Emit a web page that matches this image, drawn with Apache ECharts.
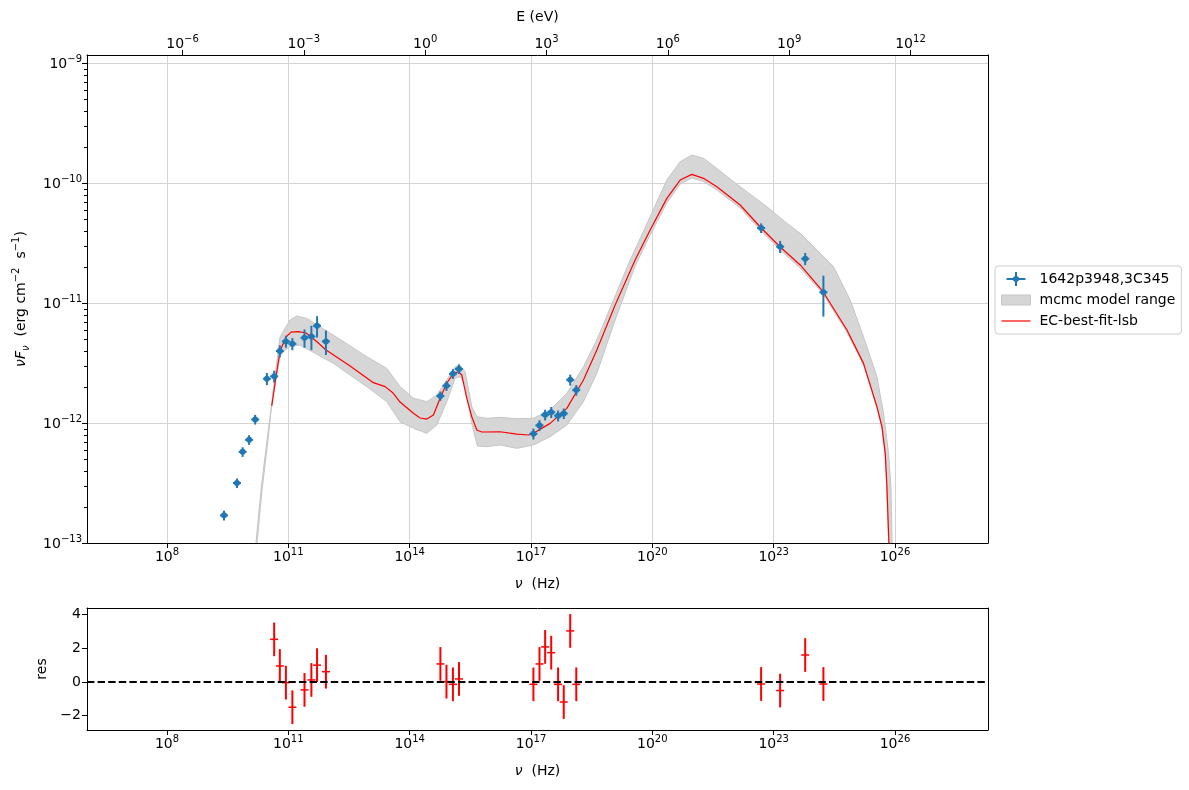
<!DOCTYPE html>
<html>
<head>
<meta charset="utf-8">
<script src="https://cdn.jsdelivr.net/npm/echarts@6/dist/echarts.min.js"></script>
<style>
  html, body { margin: 0; padding: 0; background: #fff; }
  #sed { width: 1189px; height: 790px; }
</style>
</head>
<body>
<div id="sed"></div>
<script>
// observed points: log10(nu / Hz), nuFnu and 1-sigma error (erg cm^-2 s^-1)
const logNu = [9.41, 9.73, 9.87, 10.03, 10.18, 10.47, 10.65, 10.79, 10.94, 11.10, 11.40, 11.57, 11.71, 11.93,
  14.76, 14.91, 15.07, 15.22, 17.06, 17.21, 17.35, 17.50, 17.67, 17.81, 17.97, 18.12, 22.69, 23.16, 23.78, 24.23];
const nuFnu = [1.70e-13, 3.16e-13, 5.75e-13, 7.24e-13, 1.07e-12, 2.34e-12, 2.45e-12, 3.98e-12, 4.79e-12, 4.57e-12,
  5.13e-12, 5.25e-12, 6.46e-12, 4.79e-12, 1.68e-12, 2.04e-12, 2.57e-12, 2.82e-12, 8.13e-13, 9.55e-13,
  1.17e-12, 1.23e-12, 1.15e-12, 1.20e-12, 2.29e-12, 1.88e-12, 4.22e-11, 2.95e-11, 2.34e-11, 1.23e-11];
const nuFnuErr = [1.6e-14, 2.9e-14, 5.3e-14, 6.7e-14, 9.9e-14, 2.7e-13, 2.8e-13, 4.6e-13, 5.5e-13, 5.3e-13,
  8.9e-13, 1.2e-12, 1.3e-12, 1.1e-12, 1.5e-13, 1.9e-13, 2.4e-13, 2.6e-13, 8.4e-14, 9.9e-14,
  1.2e-13, 1.3e-13, 1.2e-13, 1.2e-13, 2.4e-13, 1.9e-13, 3.9e-12, 3.4e-12, 2.7e-12, 4.6e-12];

// residuals (points inside the model range)
const resLogNu = [10.65, 10.79, 10.94, 11.10, 11.40, 11.57, 11.71, 11.93, 14.76, 14.91, 15.07, 15.22,
  17.06, 17.21, 17.35, 17.50, 17.67, 17.81, 17.97, 18.12, 22.69, 23.16, 23.78, 24.23];
const residual = [2.53, 0.95, -0.04, -1.50, -0.47, 0.12, 1.0, 0.61, 1.07, 0.02, -0.14, 0.18,
  -0.14, 1.07, 2.08, 1.74, -0.14, -1.19, 3.03, -0.14, -0.12, -0.51, 1.60, -0.12];
const residualErr = [1, 1, 1, 1, 1, 1, 1, 1, 1, 1, 1, 1, 1, 1, 1, 1, 1, 1, 1, 1, 1, 1, 1, 1];

// best fit model (log10 nu, log10 nuFnu)
const modelLogNu = [10.590, 10.69, 10.795, 10.943, 11.067, 11.248, 11.438, 11.685, 11.933, 12.527, 13.103, 13.392,
  13.590, 13.763, 14.092, 14.258, 14.423, 14.587, 14.752, 14.918, 15.081, 15.205, 15.289, 15.413, 15.536, 15.660,
  15.784, 16.236, 16.649, 16.936, 17.060, 17.473, 17.886, 18.297, 18.628, 19.081, 19.575, 19.946, 20.359, 20.688,
  20.978, 21.265, 21.596, 22.172, 22.692, 23.162, 23.657, 24.226, 24.812, 25.222, 25.554, 25.678, 25.759, 25.801,
  25.841, 25.851];
const modelLogFlux = [-11.858, -11.625, -11.400, -11.283, -11.242, -11.239, -11.25, -11.317, -11.392, -11.525, -11.664,
  -11.697, -11.75, -11.825, -11.919, -11.958, -11.967, -11.933, -11.794, -11.669, -11.586, -11.573, -11.6, -11.794,
  -11.948, -12.058, -12.075, -12.073, -12.092, -12.1, -12.086, -12.003, -11.878, -11.642, -11.392, -11.017, -10.642,
  -10.392, -10.128, -9.975, -9.928, -9.961, -10.031, -10.183, -10.375, -10.533, -10.683, -10.908, -11.225, -11.503,
  -11.864, -12.031, -12.253, -12.531, -12.919, -13.0];

// mcmc model range, upper and lower edge
const bandHiLogNu = [10.226, 10.350, 10.498, 10.597, 10.795, 10.919, 11.042, 11.208, 11.455, 12.113, 12.939, 13.434,
  13.763, 14.092, 14.423, 14.671, 14.918, 15.123, 15.230, 15.371, 15.536, 15.660, 15.907, 16.236, 16.649, 17.060,
  17.473, 17.886, 18.297, 18.628, 19.452, 19.946, 20.359, 20.688, 20.978, 21.265, 21.596, 22.172, 22.833, 23.328,
  23.657, 24.480, 24.893, 25.222, 25.554, 25.717, 25.841, 25.900, 25.930];
const bandHiLogFlux = [-13.0, -12.558, -12.142, -11.808, -11.283, -11.211, -11.142, -11.108, -11.128, -11.267, -11.447,
  -11.544, -11.697, -11.794, -11.822, -11.767, -11.642, -11.531, -11.517, -11.572, -11.864, -11.947, -11.961, -11.953,
  -11.964, -11.961, -11.892, -11.753, -11.531, -11.308, -10.642, -10.281, -9.975, -9.822, -9.767, -9.794, -9.878,
  -10.031, -10.197, -10.336, -10.419, -10.697, -10.975, -11.281, -11.614, -11.919, -12.253, -12.531, -13.0];
const bandLoLogNu = [10.200, 10.325, 10.473, 10.572, 10.795, 10.919, 11.042, 11.29, 12.113, 12.939, 13.434, 13.763,
  14.092, 14.423, 14.671, 14.918, 15.123, 15.247, 15.371, 15.536, 15.674, 15.907, 16.236, 16.649, 17.060, 17.473,
  17.886, 18.297, 18.628, 19.081, 19.575, 19.946, 20.359, 20.688, 20.978, 21.265, 21.596, 22.172, 22.692, 23.162,
  23.657, 24.226, 24.812, 25.222, 25.554, 25.678, 25.759, 25.796, 25.833, 25.846];
const bandLoLogFlux = [-13.0, -12.558, -12.142, -11.892, -11.442, -11.392, -11.364, -11.35, -11.503, -11.697, -11.822,
  -11.989, -12.044, -12.086, -12.017, -11.822, -11.628, -11.614, -11.683, -12.003, -12.192, -12.197, -12.183, -12.211,
  -12.183, -12.114, -12.017, -11.822, -11.586, -11.142, -10.692, -10.433, -10.167, -10.008, -9.958, -9.988, -10.058,
  -10.208, -10.4, -10.558, -10.708, -10.925, -11.242, -11.517, -11.875, -12.042, -12.267, -12.542, -12.925, -13.0];

// ticks (log10)
const nuTicks = [8, 11, 14, 17, 20, 23, 26];
const eTicks = [-6, -3, 0, 3, 6, 9, 12];
const fluxTicks = [-13, -12, -11, -10, -9];
const resTicks = [-2, 0, 2, 4];

const NU_MIN = 6.022, NU_MAX = 28.30;
const FLUX_MIN = -13, FLUX_MAX = -8.933;
const RES_MIN = -2.85, RES_MAX = 4.39;
const LOG_H_EV = -14.3834; // log10(h / eV s)

const FONT = 'DejaVu Sans';
const BLUE = '#1f77b4';
const GRID = '#d4d4d4';

// minor ticks of the flux axis (2..9 x 10^n)
const fluxMinor = [];
for (let n = -13; n < -9; n++) {
  for (let k = 2; k <= 9; k++) fluxMinor.push(n + Math.log10(k));
}

function pow10(v) {
  const n = Math.round(v);
  return '{b|10}{s|' + (n < 0 ? '\u2212' + (-n) : n) + '}';
}
const supRich = {
  b: { fontFamily: FONT, fontSize: 14, color: '#000', verticalAlign: 'bottom' },
  s: { fontFamily: FONT, fontSize: 10, color: '#000', verticalAlign: 'top', padding: [0, 0, 7, 0] }
};
const nameRich = {
  t: { fontFamily: FONT, fontSize: 14, color: '#000', verticalAlign: 'middle' },
  i: { fontFamily: FONT, fontSize: 14, color: '#000', fontStyle: 'italic', verticalAlign: 'middle' },
  sub: { fontFamily: FONT, fontSize: 10, color: '#000', fontStyle: 'italic', verticalAlign: 'bottom', padding: [10, 0, 0, 0] },
  sup: { fontFamily: FONT, fontSize: 10, color: '#000', verticalAlign: 'top', padding: [0, 0, 10, 0] }
};

function spine(extra) {
  return Object.assign({
    type: 'value',
    axisLine: { show: true, onZero: false, lineStyle: { color: '#000', width: 1 } },
    axisTick: { show: false },
    axisLabel: { show: false },
    splitLine: { show: false }
  }, extra);
}

const obsData = logNu.map((x, i) => [x, Math.log10(nuFnu[i]),
  Math.log10(nuFnu[i] - nuFnuErr[i]), Math.log10(nuFnu[i] + nuFnuErr[i])]);
const resData = resLogNu.map((x, i) => [x, residual[i], residual[i] - residualErr[i], residual[i] + residualErr[i]]);

function errorBars(color, withDot) {
  return function (params, api) {
    const c = api.coord([api.value(0), api.value(1)]);
    const lo = api.coord([api.value(0), api.value(2)]);
    const hi = api.coord([api.value(0), api.value(3)]);
    const kids = [
      { type: 'line', shape: { x1: lo[0], y1: lo[1], x2: hi[0], y2: hi[1] }, style: { stroke: color, lineWidth: 2 } },
      { type: 'line', shape: { x1: c[0] - 4, y1: c[1], x2: c[0] + 4, y2: c[1] }, style: { stroke: color, lineWidth: withDot ? 2 : 1.5 } }
    ];
    if (withDot) kids.push({ type: 'circle', shape: { cx: c[0], cy: c[1], r: 3 }, style: { fill: color } });
    return { type: 'group', children: kids };
  };
}

var myChart = echarts.init(document.getElementById('sed'));
var option = {
  animation: false,
  backgroundColor: '#fff',
  textStyle: { fontFamily: FONT },
  grid: [
    { left: 87, top: 55, width: 901, height: 488 },
    { left: 87, top: 608, width: 901, height: 122 }
  ],
  legend: {
    orient: 'vertical',
    left: 995,
    top: 266,
    padding: [6, 6, 6, 6],
    itemGap: 6.5,
    itemWidth: 29,
    itemHeight: 14,
    selectedMode: false,
    backgroundColor: '#fff',
    borderColor: '#cccccc',
    borderWidth: 1,
    borderRadius: 3,
    textStyle: { fontFamily: FONT, fontSize: 14, color: '#000', padding: [0, 0, 0, 4] },
    data: [
      {
        name: '1642p3948,3C345',
        icon: 'path://M0,0L0,0M29,14L29,14M13.5,0H15.5V14H13.5ZM5,6H24V8H5ZM11.5,7A3,3 0 1,1 17.5,7A3,3 0 1,1 11.5,7Z',
        itemStyle: { color: BLUE, borderWidth: 0 }
      },
      {
        name: 'mcmc model range',
        icon: 'path://M0,0L0,0M29,14L29,14M0,2H29V12H0Z',
        itemStyle: { color: '#d6d6d6', borderColor: '#c6c6c6', borderWidth: 1 }
      },
      {
        name: 'EC-best-fit-lsb',
        icon: 'path://M0,0L0,0M29,14L29,14M0,6.4H29V7.6H0Z',
        itemStyle: { color: '#ff0000', borderWidth: 0 }
      }
    ]
  },
  xAxis: [
    {
      type: 'value', gridIndex: 0, position: 'bottom', min: NU_MIN, max: NU_MAX,
      name: '{i|ν}{t|  (Hz)}', nameLocation: 'middle', nameGap: 34, nameTextStyle: { rich: nameRich },
      axisLine: { onZero: false, lineStyle: { color: '#000', width: 1 } },
      axisTick: { customValues: nuTicks, length: 5, lineStyle: { color: '#000' } },
      axisLabel: { customValues: nuTicks, formatter: pow10, rich: supRich, margin: 4 },
      splitLine: { show: true, lineStyle: { color: GRID, width: 1 } }
    },
    {
      type: 'value', gridIndex: 0, position: 'top', min: NU_MIN + LOG_H_EV, max: NU_MAX + LOG_H_EV,
      name: 'E (eV)', nameLocation: 'middle', nameGap: 31,
      nameTextStyle: { fontFamily: FONT, fontSize: 14, color: '#000' },
      axisLine: { onZero: false, lineStyle: { color: '#000', width: 1 } },
      axisTick: { customValues: eTicks, length: 5, lineStyle: { color: '#000' } },
      axisLabel: { customValues: eTicks, formatter: pow10, rich: supRich, margin: 4 },
      splitLine: { show: false }
    },
    {
      type: 'value', gridIndex: 1, position: 'bottom', min: NU_MIN, max: NU_MAX,
      name: '{i|ν}{t|  (Hz)}', nameLocation: 'middle', nameGap: 34, nameTextStyle: { rich: nameRich },
      axisLine: { onZero: false, lineStyle: { color: '#000', width: 1 } },
      axisTick: { customValues: nuTicks, length: 5, lineStyle: { color: '#000' } },
      axisLabel: { customValues: nuTicks, formatter: pow10, rich: supRich, margin: 4 },
      splitLine: { show: false }
    },
    spine({ gridIndex: 1, position: 'top', min: NU_MIN, max: NU_MAX })
  ],
  yAxis: [
    {
      type: 'value', gridIndex: 0, position: 'left', min: FLUX_MIN, max: FLUX_MAX,
      name: '{i|νF}{sub|ν}{t|  (erg cm}{sup|\u22122}{t|  s}{sup|\u22121}{t|)}',
      nameLocation: 'middle', nameGap: 56, nameTextStyle: { rich: nameRich },
      axisLine: { onZero: false, lineStyle: { color: '#000', width: 1 } },
      axisTick: { customValues: fluxTicks, length: 5, lineStyle: { color: '#000' } },
      axisLabel: { customValues: fluxTicks, formatter: pow10, rich: supRich, margin: 5 },
      splitLine: { show: true, lineStyle: { color: GRID, width: 1 } }
    },
    spine({ gridIndex: 0, position: 'right', min: FLUX_MIN, max: FLUX_MAX }),
    {
      type: 'value', gridIndex: 1, position: 'left', min: RES_MIN, max: RES_MAX,
      name: 'res', nameLocation: 'middle', nameGap: 33,
      nameTextStyle: { fontFamily: FONT, fontSize: 14, color: '#000' },
      axisLine: { onZero: false, lineStyle: { color: '#000', width: 1 } },
      axisTick: { customValues: resTicks, length: 5, lineStyle: { color: '#000' } },
      axisLabel: {
        customValues: resTicks, margin: 6, fontFamily: FONT, fontSize: 14, color: '#000',
        formatter: v => (v < 0 ? '\u2212' + (-v) : String(v))
      },
      splitLine: { show: false }
    },
    spine({ gridIndex: 1, position: 'right', min: RES_MIN, max: RES_MAX })
  ],
  series: [
    {
      name: 'mcmc model range',
      type: 'custom',
      xAxisIndex: 0,
      yAxisIndex: 0,
      z: 1,
      data: [[bandHiLogNu[0], bandHiLogFlux[0]]],
      renderItem: function (params, api) {
        const pts = [];
        for (let i = 0; i < bandHiLogNu.length; i++) pts.push(api.coord([bandHiLogNu[i], bandHiLogFlux[i]]));
        for (let i = bandLoLogNu.length - 1; i >= 0; i--) pts.push(api.coord([bandLoLogNu[i], bandLoLogFlux[i]]));
        const cs = params.coordSys;
        return {
          type: 'polygon',
          shape: { points: pts },
          style: { fill: '#d6d6d6', stroke: '#c6c6c6', lineWidth: 1 },
          clipPath: { type: 'rect', shape: { x: cs.x, y: cs.y, width: cs.width, height: cs.height } }
        };
      }
    },
    {
      name: 'EC-best-fit-lsb',
      type: 'line',
      xAxisIndex: 0,
      yAxisIndex: 0,
      z: 2,
      symbol: 'none',
      clip: true,
      data: modelLogNu.map((x, i) => [x, modelLogFlux[i]]),
      lineStyle: { color: '#ff0000', width: 1.2 },
      itemStyle: { color: '#ff0000' }
    },
    {
      name: '1642p3948,3C345',
      type: 'custom',
      xAxisIndex: 0,
      yAxisIndex: 0,
      z: 3,
      encode: { x: 0, y: [1, 2, 3] },
      data: obsData,
      renderItem: errorBars(BLUE, true)
    },
    {
      // minor ticks of the log flux axis, drawn just outside the left spine
      name: 'minor ticks',
      type: 'custom',
      xAxisIndex: 0,
      yAxisIndex: 0,
      z: 5,
      silent: true,
      encode: { x: 0, y: 1 },
      data: fluxMinor.map(v => [NU_MIN, v]),
      renderItem: function (params, api) {
        const p = api.coord([api.value(0), api.value(1)]);
        return {
          type: 'line',
          shape: { x1: p[0] - 3, y1: Math.round(p[1]) + 0.5, x2: p[0], y2: Math.round(p[1]) + 0.5 },
          style: { stroke: '#000', lineWidth: 1 }
        };
      }
    },
    {
      name: 'residual',
      type: 'custom',
      xAxisIndex: 2,
      yAxisIndex: 2,
      z: 3,
      encode: { x: 0, y: [1, 2, 3] },
      data: resData,
      renderItem: errorBars('#ff0000', false)
    },
    {
      name: 'zero',
      type: 'line',
      xAxisIndex: 2,
      yAxisIndex: 2,
      z: 4,
      symbol: 'none',
      data: [[NU_MIN, 0], [NU_MAX, 0]],
      lineStyle: { color: '#000', width: 2, type: [7.4, 3.2] }
    }
  ]
};
option && myChart.setOption(option);
window.addEventListener('resize', myChart.resize);
</script>
</body>
</html>
